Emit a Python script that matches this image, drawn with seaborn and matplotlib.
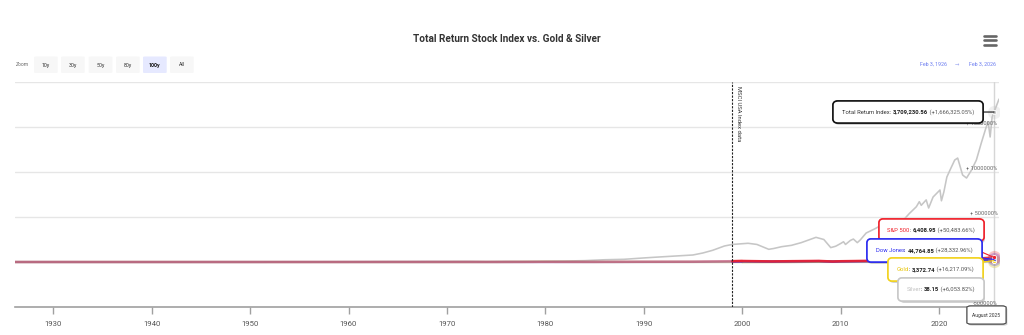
import matplotlib
matplotlib.use("Agg")
import matplotlib.pyplot as plt
import matplotlib.patheffects as pe
import pandas as pd
import seaborn as sns
from matplotlib.offsetbox import TextArea, HPacker, AnnotationBbox
from matplotlib.patches import FancyBboxPatch
from matplotlib.lines import Line2D
from matplotlib.transforms import blended_transform_factory

sns.set_theme(style="white")
plt.rcParams['font.family'] = ['Roboto', 'DejaVu Sans']

# ---- data: % change since Feb 3, 1926 ----
tr_years = [1926.1, 1927, 1928, 1929, 1930, 1931, 1932, 1933, 1934, 1935, 1936, 1937,
            1938, 1939, 1940, 1942, 1944, 1946, 1948, 1950, 1952, 1954, 1956, 1958,
            1960, 1962, 1964, 1966, 1968, 1970, 1972, 1974, 1976, 1978, 1980, 1982,
            1984, 1986, 1988, 1990, 1991, 1993, 1995, 1996, 1997, 1998.2, 1999,
            2000.6, 2001.5, 2002.7, 2003.2, 2004, 2005, 2006, 2007.5, 2008.3, 2009.0,
            2009.5, 2010.0, 2010.3, 2010.5, 2011.0, 2011.3, 2011.7, 2012.0, 2012.6,
            2013.5, 2014.0, 2014.6, 2015.4, 2015.7, 2016.1, 2016.5, 2017.0, 2017.7,
            2018.0, 2018.2, 2018.7, 2018.95, 2019.4, 2020.1, 2020.25, 2020.5, 2020.8,
            2021.2, 2021.6, 2021.9, 2022.4, 2022.8, 2023.3, 2023.8, 2024.3, 2024.8,
            2025.0, 2025.2, 2025.4, 2025.6, 2026.1]
tr_pct = [0, 8, 100, 180, 120, 60, -10, 40, 50, 120, 200, 100,
          140, 120, 100, 90, 180, 280, 300, 500, 800, 1300, 1700, 2200,
          2700, 3000, 4000, 4300, 5200, 5300, 6500, 3800, 6000, 6500, 9200, 11000,
          15000, 25000, 30000, 45000, 52000, 65000, 78000, 100000, 130000, 178000, 195000,
          208000, 195000, 141000, 150000, 170000, 185000, 215000, 274000, 250000, 160000,
          175000, 205000, 225000, 195000, 240000, 255000, 215000, 245000, 322000,
          370000, 400000, 433000, 470000, 430000, 440000, 480000, 540000, 614000,
          670000, 630000, 690000, 600000, 722000, 800000, 680000, 780000, 944000,
          1040000, 1133000, 1155000, 967000, 933000, 1020000, 1133000, 1322000, 1500000,
          1555000, 1389000, 1610000, 1666325.05, 1810000]

spx_years = [1926.1, 1930, 1935, 1940, 1945, 1950, 1955, 1960, 1965, 1970, 1975, 1980,
             1985, 1990, 1995, 1999, 2000, 2003, 2005, 2007.8, 2009.2, 2010, 2015, 2020,
             2022.8, 2025, 2025.6]
spx_pct = [0, 71, -27, -3, 7, 33, 189, 358, 587, 626, 452, 800,
           1218, 2686, 3523, 9000, 11494, 6609, 9221, 12134, 5425, 8700, 16143, 25362,
           28314, 46317, 50483.66]

dow_years = [1926.1, 1930, 1935, 1940, 1945, 1950, 1955, 1960, 1965, 1970, 1975, 1980,
             1985, 1990, 1995, 1999, 2000, 2003, 2005, 2007.8, 2009.2, 2010, 2015, 2020,
             2022.8, 2025, 2025.6]
dow_pct = [0, 58, -34, -5, -3, 27, 157, 331, 455, 408, 302, 456,
           670, 1649, 2336, 5800, 7204, 4983, 6751, 8795, 4347, 6525, 11223, 18031,
           19595, 26929, 28332.96]

gold_years = [1926.1, 1930, 1934.1, 1940, 1950, 1960, 1970, 1975, 1980, 1985, 1990,
              1995, 2000, 2005, 2010, 2011.7, 2015, 2020, 2025, 2025.6]
gold_pct = [0, 0, 69, 69, 69, 69, 74, 747, 3045, 1400, 1835,
            1763, 1279, 1980, 5222, 8608, 5947, 7399, 12962, 16217.09]

silver_years = [1926.1, 1930, 1935, 1940, 1945, 1950, 1955, 1960, 1965, 1970, 1975,
                1980, 1985, 1990, 1995, 2000, 2005, 2011.3, 2015, 2020, 2025, 2025.6]
silver_pct = [0, -39, 3, -44, -19, 19, 45, 47, 108, 190, 577,
              3126, 884, 739, 658, 706, 981, 6352, 2481, 2803, 4739, 6053.82]

year_ticks = [1930, 1940, 1950, 1960, 1970, 1980, 1990, 2000, 2010, 2020]
y_grid = [-500000, 0, 500000, 1000000, 1500000, 2000000]
y_labels = {1500000: "+ 1500000%", 1000000: "+ 1000000%", 500000: "+ 500000%",
            0: "0%", -500000: "-500000%"}
zoom_buttons = ["10y", "30y", "50y", "80y", "100y", "All"]
hover_x = 2025.6
msci_start = 1999.0

C_TR = "#c6c6c6"
C_SPX = "#f0202a"
C_DOW = "#2a2af0"
C_GOLD = "#f2d21c"
C_SILVER = "#c8c8c8"

W, H = 1024, 335
fig = plt.figure(figsize=(W / 100, H / 100), dpi=100)


def fx(x):
    return x / W


def fy(y):
    return 1 - y / H


ax = fig.add_axes([fx(15), fy(307), (999 - 15) / W, (307 - 82) / H])
ax.set_xlim(1926.1, 2026.1)
ax.set_ylim(-500000, 2000000)

for g in y_grid[1:]:
    ax.axhline(g, color="#e6e6e6", lw=1, zorder=0)

# series
df_tr = pd.DataFrame({"year": tr_years, "pct": tr_pct})
sns.lineplot(data=df_tr, x="year", y="pct", ax=ax, color=C_TR, lw=1.15, zorder=3)

for yrs, vals, col in [(silver_years, silver_pct, C_SILVER), (gold_years, gold_pct, C_GOLD),
                       (dow_years, dow_pct, C_DOW), (spx_years, spx_pct, C_SPX)]:
    df = pd.DataFrame({"year": yrs, "pct": vals})
    early = df[df["year"] <= msci_start + 1]
    late = df[df["year"] >= msci_start]
    sns.lineplot(data=early, x="year", y="pct", ax=ax, color=col, lw=1.8, alpha=0.35, zorder=4)
    sns.lineplot(data=late, x="year", y="pct", ax=ax, color=col, lw=1.8, alpha=0.9, zorder=4)

# MSCI marker line
ax.axvline(msci_start, color="#222222", lw=0.8, ls=(0, (2, 1.2)), zorder=5)
ax.text(msci_start + 0.35, 1960000, "MSCI USA Index data", rotation=-90, fontsize=4.2,
        color="#333333", ha="left", va="top", zorder=5)

# hover crosshair
ax.axvline(hover_x, color="#d6d6d6", lw=1, zorder=2)

# axes styling
for s in ["top", "right", "left"]:
    ax.spines[s].set_visible(False)
ax.spines["bottom"].set_color("#a0a0a0")
ax.spines["bottom"].set_linewidth(1.2)
ax.set_xticks(year_ticks)
ax.set_xticklabels([str(t) for t in year_ticks])
ax.tick_params(axis="x", length=5, width=1, color="#a0a0a0", labelsize=5.6,
               labelcolor="#555555", pad=5, bottom=True)
ax.set_yticks([])
ax.set_xlabel("")
ax.set_ylabel("")

ylab_tf = blended_transform_factory(ax.transAxes, ax.transData)
for v, lab in y_labels.items():
    ax.text(0.9985, v + 15000, lab, transform=ylab_tf, ha="right", va="bottom",
            fontsize=4.1, color="#666666", zorder=6)

# hover markers
end_points = [(1666325.05, C_TR), (6053.82, C_SILVER), (16217.09, C_GOLD),
              (28332.96, C_DOW), (50483.66, C_SPX)]
for v, col in end_points:
    ax.scatter([hover_x], [v], s=90, color=col, alpha=0.25, lw=0, zorder=7)
    ax.scatter([hover_x], [v], s=9, color=col, edgecolor="white", lw=0.6, zorder=8)


def tooltip(name, name_col, value, pct, edge, xy, right_px, cy_px, line=True):
    parts = [TextArea(name, textprops=dict(color=name_col, size=4.2)),
             TextArea(": ", textprops=dict(color="#333333", size=4.2)),
             TextArea(value, textprops=dict(color="#222222", size=4.2, weight="bold")),
             TextArea(" (" + pct + ")", textprops=dict(color="#555555", size=4.2))]
    pack = HPacker(children=parts, pad=0, sep=0, align="baseline")
    ab = AnnotationBbox(pack, xy, xybox=(right_px - 9, H - cy_px), xycoords="data",
                        boxcoords="figure pixels", box_alignment=(1, 0.5), pad=0.62,
                        fontsize=10,
                        bboxprops=dict(boxstyle="round,pad=0.62,rounding_size=0.3",
                                       ec=edge, lw=1.1, fc="white"),
                        arrowprops=(dict(arrowstyle="-", color=edge, lw=0.8,
                                         shrinkA=0, shrinkB=0) if line else None),
                        zorder=9)
    ab.patch.set_path_effects([pe.withSimplePatchShadow(offset=(1, -1.2), alpha=0.25),
                               pe.Normal()])
    ax.add_artist(ab)


tooltip("Total Return Index", "#333333", "3,709,230.56", "+1,666,325.05%", "#111111",
        (hover_x, 1666325.05), 983, 112)
tooltip("S&P 500", C_SPX, "6,408.95", "+50,483.66%", C_SPX, (hover_x, 50483.66), 984, 230)
tooltip("Dow Jones", C_DOW, "44,764.85", "+28,332.96%", C_DOW, (hover_x, 28332.96), 982, 250.5)
tooltip("Gold", "#e8c400", "3,372.74", "+16,217.09%", C_GOLD, (hover_x, 16217.09), 983, 269.5)
tooltip("Silver", "#c0c0c0", "38.15", "+6,053.82%", "#c8c8c8", (hover_x, 6053.82), 984, 289.5,
        line=False)

# date label under the crosshair
date_box = FancyBboxPatch((fx(967), fy(324)), fx(39), 18 / H,
                          boxstyle="round,pad=0,rounding_size=0.004",
                          transform=fig.transFigure, fc="white", ec="#555555", lw=0.8,
                          zorder=10)
date_box.set_path_effects([pe.withSimplePatchShadow(offset=(1, -1.2), alpha=0.25),
                           pe.Normal()])
fig.add_artist(date_box)
fig.text(fx(986.5), fy(315.5), "August 2025", fontsize=3.6, color="#333333",
         ha="center", va="center", zorder=11)

# header
fig.text(fx(507), fy(38.5), "Total Return Stock Index vs. Gold & Silver", fontsize=7.2,
         weight="bold", color="#333333", ha="center", va="center")

for yy in (35.5, 40, 44.5):
    fig.add_artist(Line2D([fx(984), fx(996)], [fy(yy), fy(yy)], color="#666666", lw=1.9,
                          transform=fig.transFigure))

fig.text(fx(22.5), fy(65), "Zoom", fontsize=3.6, color="#666666", ha="center", va="center")
btn_left = [34, 61, 88.7, 116, 143, 170]
for lbl, bx in zip(zoom_buttons, btn_left):
    sel = lbl == "100y"
    fig.add_artist(FancyBboxPatch((fx(bx), fy(73)), fx(23.7), 16.5 / H,
                                  boxstyle="round,pad=0,rounding_size=0.002",
                                  transform=fig.transFigure,
                                  fc="#e6e9ff" if sel else "#f7f7f7", ec="none"))
    fig.text(fx(bx + 11.85), fy(65), lbl, fontsize=3.8, ha="center", va="center",
             color="#111111" if sel else "#333333", weight="bold" if sel else "normal")

fig.text(fx(947), fy(64.5), "Feb 3, 1926", fontsize=3.8, color="#6b7cf0", ha="right",
         va="center")
fig.text(fx(956.5), fy(64.5), "\u2192", fontsize=3.8, color="#9aa4f0", ha="center",
         va="center", family=["DejaVu Sans"])
fig.text(fx(996), fy(64.5), "Feb 3, 2026", fontsize=3.8, color="#6b7cf0", ha="right",
         va="center")

fig.savefig("out.png", dpi=100, facecolor="white")
